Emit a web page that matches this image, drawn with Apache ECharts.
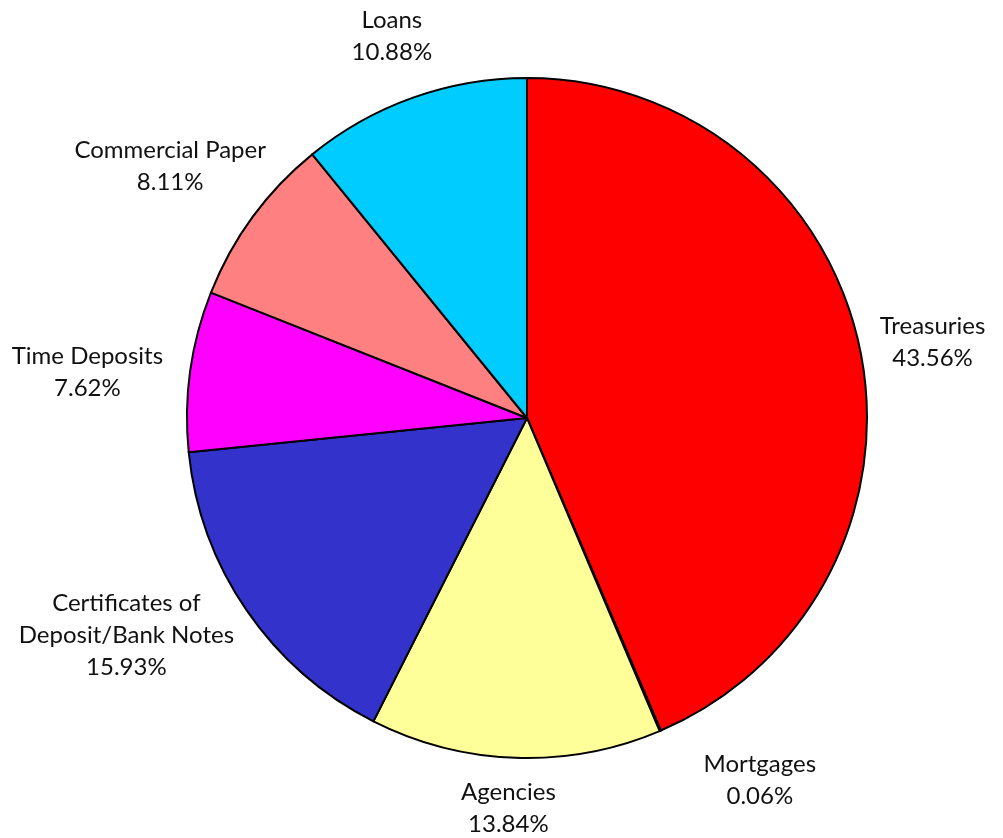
<!DOCTYPE html>
<html lang="en" style="height: 100%">
<head>
<meta charset="utf-8">
<title>Portfolio Composition Pie</title>
</head>
<body style="height: 100%; margin: 0; background: #fff">
<div id="container" style="height: 100%"></div>

<script type="text/javascript" src="https://cdn.jsdelivr.net/npm/echarts/dist/echarts.min.js"></script>

<script type="text/javascript">

var categories = ['Treasuries', 'Mortgages', 'Agencies', 'Certificates of\nDeposit/Bank Notes', 'Time Deposits', 'Commercial Paper', 'Loans'];
var shares = [43.56, 0.06, 13.84, 15.93, 7.62, 8.11, 10.88];
var sliceColors = ['#FF0000', '#800080', '#FFFF99', '#3333CC', '#FF00FF', '#FF8080', '#00CCFF'];
// small hand tweaks to label placement (px)
var labelNudgeX = [7, 72, -5, -20, -14, 6, -3];
var labelNudgeY = [2, 7, 4, -10, 7, -24, -18];

var dom = document.getElementById('container');
var myChart = echarts.init(dom);

// pie geometry (px)
var cx = 527, cy = 418, radius = 340, gap = 14;

// mid angle of each slice, clockwise from 12 o'clock
var total = shares.reduce(function (a, b) { return a + b; }, 0);
var midAngles = [];
var acc = 0;
shares.forEach(function (v) {
  midAngles.push((acc + v / 2) / total * 2 * Math.PI);
  acc += v;
});

var option = {
  animation: false,
  series: [
    {
      type: 'pie',
      center: [cx, cy],
      radius: radius,
      startAngle: 90,
      clockwise: true,
      avoidLabelOverlap: false,
      data: categories.map(function (name, i) {
        return { name: name, value: shares[i], itemStyle: { color: sliceColors[i] } };
      }),
      itemStyle: {
        borderColor: '#000',
        borderWidth: 2
      },
      label: {
        show: true,
        position: 'outside',
        formatter: function (p) {
          return p.name + '\n' + p.value.toFixed(2) + '%';
        },
        fontFamily: 'Lato, "Open Sans", sans-serif',
        fontSize: 24,
        lineHeight: 32,
        color: '#111',
        align: 'center'
      },
      labelLine: { show: false },
      labelLayout: function (p) {
        var i = p.dataIndex;
        var a = midAngles[i];
        var dx = Math.sin(a), dy = -Math.cos(a);
        var w = p.labelRect.width, h = p.labelRect.height;
        return {
          x: cx + dx * (radius + gap) + dx * w / 2 + labelNudgeX[i],
          y: cy + dy * (radius + gap) + dy * h / 2 + labelNudgeY[i],
          align: 'center',
          verticalAlign: 'middle'
        };
      },
      emphasis: { disabled: true }
    }
  ]
};

myChart.setOption(option);
window.addEventListener('resize', myChart.resize);
</script>
</body>
</html>
